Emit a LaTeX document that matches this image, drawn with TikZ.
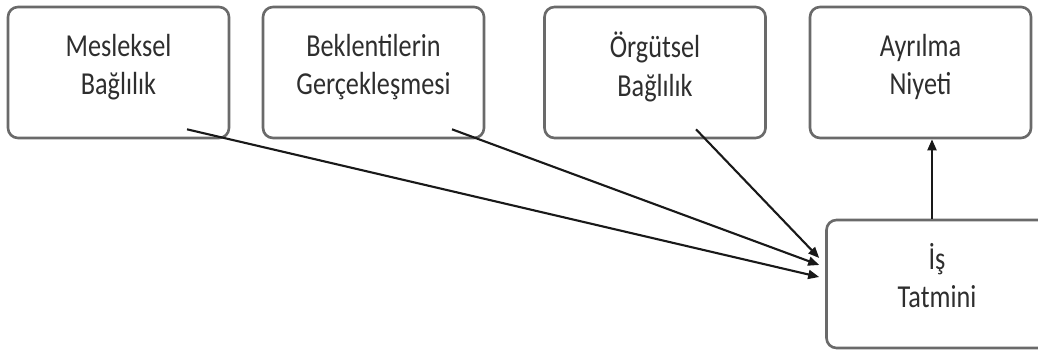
\documentclass[tikz,border=0pt]{standalone}
\usepackage{fontspec}
\usetikzlibrary{arrows.meta}
\newfontfamily\kutufont[FakeStretch=0.82]{Carlito}
\definecolor{kutugri}{HTML}{6A6A6A}
\definecolor{yazigri}{HTML}{2E2E2E}
\begin{document}
\begin{tikzpicture}[
        kutu/.style={draw=kutugri, line width=1.5pt, rounded corners=0.2cm, minimum width=4.42cm, minimum height=2.62cm, align=center, text depth=0.33cm, text=yazigri, font=\kutufont\fontsize{18.2}{21.8}\selectfont},
        ok/.style={-{Triangle[length=0.22cm,width=0.18cm]}, line width=1.2pt, draw=black!90}
    ]
        \useasboundingbox (0,0) rectangle (20.76,-7.08);

        \node[kutu] (mesleksel) at (2.37,-1.45) {Mesleksel\\Bağlılık};
        \node[kutu] (beklenti) at (7.47,-1.45) {Beklentilerin\\Gerçekleşmesi};
        \node[kutu] (orgutsel) at (13.1,-1.45) {Örgütsel\\Bağlılık};
        \node[kutu] (ayrilma) at (18.41,-1.45) {Ayrılma\\Niyeti};
        \node[kutu, minimum height=2.56cm] (tatmin) at (18.74,-5.68) {İş\\Tatmini};

        \foreach \kaynak/\dx/\dy in {mesleksel/1.37/0.14, beklenti/1.57/0.38, orgutsel/0.82/0.52}
            \draw[ok] ([shift={(\dx,0.2)}]\kaynak.south) -- ([shift={(-0.12,\dy)}]tatmin.west);

        \draw[ok] ([xshift=-0.1cm]tatmin.north) -- ([xshift=-0.1cm]tatmin.north |- ayrilma.south);
    \end{tikzpicture}
\end{document}
